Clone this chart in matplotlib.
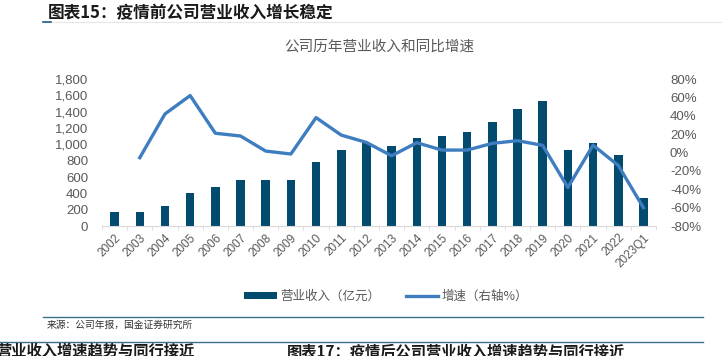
import matplotlib
matplotlib.use('Agg')
import matplotlib.pyplot as plt
import numpy as np
from matplotlib.lines import Line2D
from matplotlib.patches import Patch

plt.rcParams['font.family'] = ['Noto Sans CJK SC', 'DejaVu Sans']

# data
years = ['2002', '2003', '2004', '2005', '2006', '2007', '2008', '2009', '2010', '2011',
         '2012', '2013', '2014', '2015', '2016', '2017', '2018', '2019', '2020', '2021',
         '2022', '2023Q1']
revenue = [175, 175, 249, 400, 473, 563, 563, 563, 783, 930,
           1020, 975, 1077, 1105, 1155, 1273, 1432, 1534, 930, 1020,
           869, 343]
growth = [np.nan, -5.6, 42, 62, 21, 18, 1.6, -1.6, 38, 19,
          11, -3.5, 10.7, 2.7, 2.7, 10, 12.9, 7.8, -38, 8,
          -14, -60]

left_ticks = [0, 200, 400, 600, 800, 1000, 1200, 1400, 1600, 1800]
right_ticks = [-80, -60, -40, -20, 0, 20, 40, 60, 80]

bar_color = '#024a6e'
line_color = '#3e7dc0'
gray = '#595959'
num_font = ['Liberation Sans', 'DejaVu Sans']

fig = plt.figure(figsize=(7.22, 3.56), dpi=100)
ax = fig.add_axes([0.1413, 0.365, 0.7673, 0.413])
ax2 = ax.twinx()

x = np.arange(len(years))
ax.bar(x, revenue, width=0.34, color=bar_color, zorder=2)
ax2.plot(x, growth, color=line_color, linewidth=2.4, zorder=3)

ax.set_xlim(-0.5, len(years) - 0.5)
ax.set_ylim(0, 1800)
ax2.set_ylim(-80, 80)

ax.set_yticks(left_ticks)
ax.set_yticklabels([f'{v:,}' for v in left_ticks], family=num_font)
ax2.set_yticks(right_ticks)
ax2.set_yticklabels([f'{v}%' for v in right_ticks], family=num_font)

ax.set_xticks(x)
ax.set_xticklabels(years, rotation=45, ha='right', rotation_mode='anchor', family=num_font)
ax.set_xticks(np.arange(-0.5, len(years)), minor=True)

for a in (ax, ax2):
    for s in a.spines.values():
        s.set_visible(False)
ax.spines['bottom'].set_visible(True)
ax.spines['bottom'].set_color('#d9d9d9')

ax.tick_params(axis='y', length=0, labelsize=9.5, labelcolor=gray, pad=10)
ax2.tick_params(axis='y', length=0, labelsize=9.5, labelcolor=gray, pad=10)
ax.tick_params(axis='x', which='major', length=0, labelsize=8.5, labelcolor=gray, pad=4)
ax.tick_params(axis='x', which='minor', length=3, color='#d9d9d9')
ax2.set_zorder(ax.get_zorder() + 1)
ax2.patch.set_visible(False)

fig.text(0.526, 0.868, '公司历年营业收入和同比增速', ha='center', va='center',
         fontsize=10.5, color=gray)

# header
fig.text(0.066, 0.962, '图表15：疫情前公司营业收入增长稳定', ha='left', va='center',
         fontsize=12, fontweight='bold', style='italic', color='#1a1a1a')
fig.add_artist(Line2D([0.062, 1.0], [0.938, 0.938], color='#e6e6e6', linewidth=0.8))
fig.add_artist(Line2D([0.060, 0.071], [0.938, 0.938], color='#1f5b8a', linewidth=1.2))

# legend
handles = [Patch(facecolor=bar_color), Line2D([0], [0], color=line_color, linewidth=2.4)]
fig.legend(handles, ['营业收入（亿元）', '增速（右轴%）'], loc='center',
           bbox_to_anchor=(0.535, 0.168), ncol=2, frameon=False, fontsize=9,
           labelcolor=gray, handlelength=2.6, handleheight=0.5, handletextpad=0.3,
           columnspacing=2.0)

# footer
fig.add_artist(Line2D([0.060, 0.974], [0.110, 0.110], color='#3b6e8f', linewidth=1.0))
fig.text(0.065, 0.087, '来源：公司年报，国金证券研究所', ha='left', va='center',
         fontsize=7, color='#333333')
fig.add_artist(Line2D([0.0, 0.974], [0.039, 0.039], color='#3b6e8f', linewidth=1.0))
fig.text(-0.005, 0.014, '营业收入增速趋势与同行接近', ha='left', va='center',
         fontsize=11, fontweight='bold', style='italic', color='#1a1a1a')
fig.text(0.397, 0.014, '图表17：疫情后公司营业收入增速趋势与同行接近', ha='left', va='center',
         fontsize=11, fontweight='bold', style='italic', color='#1a1a1a')

fig.savefig('out.png', dpi=100)
